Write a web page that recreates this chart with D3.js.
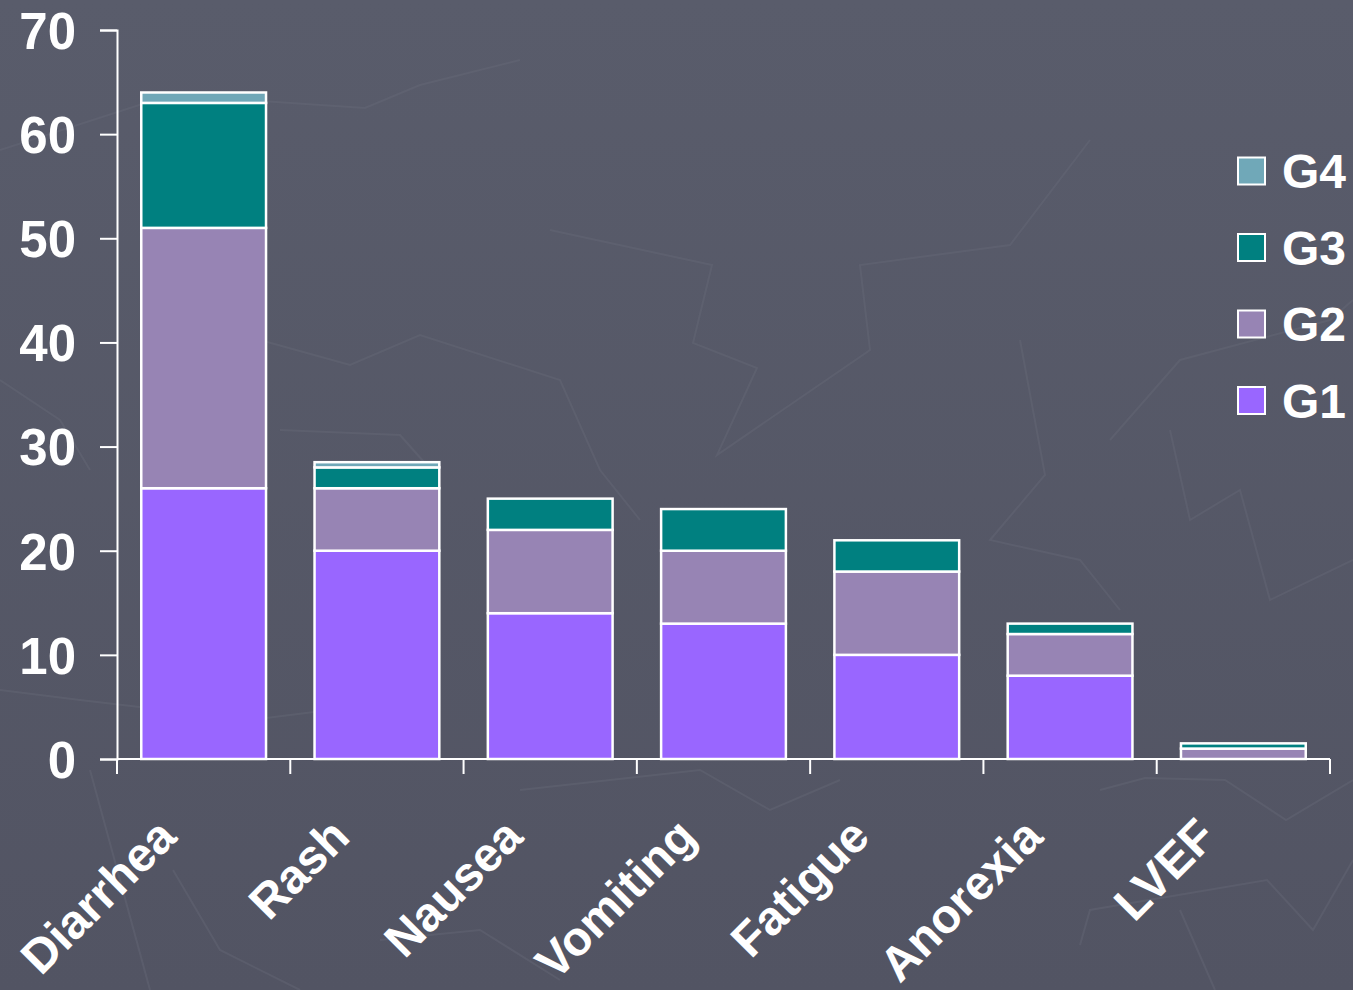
<!doctype html>
<html>
<head>
<script src="https://cdnjs.cloudflare.com/ajax/libs/d3/7.8.5/d3.min.js"></script>
<style>
    body { margin: 0; background: #565969; }
    svg { display: block; }
    text { font-family: "Liberation Sans", Arial, sans-serif; font-weight: bold; fill: #fff; }
</style>
</head>
<body>
<script>
    // chart data
    var categories = ["Diarrhea", "Rash", "Nausea", "Vomiting", "Fatigue", "Anorexia", "LVEF"];
    var grades = ["G1", "G2", "G3", "G4"];
    var g1 = [26, 20, 14, 13, 10, 8, 0];
    var g2 = [25, 6, 8, 7, 8, 4, 1];
    var g3 = [12, 2, 3, 4, 3, 1, 0.5];
    var g4 = [1, 0.5, 0, 0, 0, 0, 0];
    var yTicks = [0, 10, 20, 30, 40, 50, 60, 70];
    var colors = ["#9966ff", "#9784b4", "#008080", "#70a8b8"];

    var width = 1353, height = 990;
    var margin = {top: 30, right: 23, bottom: 231, left: 117};

    var svg = d3.select("body").append("svg")
        .attr("width", width)
        .attr("height", height);

    // background
    var bg = svg.append("defs").append("linearGradient")
        .attr("id", "bg").attr("x1", 0).attr("y1", 0).attr("x2", 0).attr("y2", 1);
    bg.append("stop").attr("offset", "0%").attr("stop-color", "#595c6b");
    bg.append("stop").attr("offset", "100%").attr("stop-color", "#525463");
    svg.append("rect").attr("width", width).attr("height", height).attr("fill", "url(#bg)");

    // faint decorative lines of the slide template
    var deco = [
        [[0, 150], [170, 95], [365, 108], [420, 85], [520, 60]],
        [[550, 230], [712, 265], [693, 343], [757, 368], [717, 455], [870, 350], [860, 265], [1010, 245], [1090, 140]],
        [[260, 340], [350, 365], [420, 335], [560, 380], [600, 470], [640, 520]],
        [[1020, 340], [1045, 475], [990, 540], [1080, 560], [1120, 610]],
        [[1110, 440], [1180, 360], [1330, 320], [1353, 300]],
        [[1170, 430], [1190, 520], [1240, 490], [1270, 600], [1353, 560]],
        [[0, 690], [80, 700], [250, 720], [330, 710]],
        [[90, 770], [150, 990]],
        [[173, 870], [220, 950], [300, 990]],
        [[520, 790], [700, 770], [770, 810], [840, 780]],
        [[380, 940], [480, 930], [560, 980]],
        [[1100, 790], [1145, 778], [1225, 780], [1286, 820], [1353, 780]],
        [[1080, 945], [1090, 910], [1267, 880], [1313, 930], [1353, 860]],
        [[1180, 910], [1215, 990]],
        [[0, 380], [60, 420], [90, 470]],
        [[280, 430], [400, 435], [440, 480]]
    ];
    svg.append("g").selectAll("path").data(deco).join("path")
        .attr("d", d3.line())
        .attr("fill", "none")
        .attr("stroke", "#6a6d7c")
        .attr("stroke-opacity", 0.35)
        .attr("stroke-width", 2);

    var x = d3.scaleBand()
        .domain(categories)
        .range([margin.left, width - margin.right])
        .paddingInner(0.28)
        .paddingOuter(0.14);

    var y = d3.scaleLinear()
        .domain([0, 70])
        .range([height - margin.bottom, margin.top]);

    // stacked bars
    var rows = categories.map(function(c, i) {
        return {cat: c, G1: g1[i], G2: g2[i], G3: g3[i], G4: g4[i]};
    });
    var series = d3.stack().keys(grades)(rows);

    svg.append("g").selectAll("g")
        .data(series)
        .join("g")
        .attr("fill", function(d, i) { return colors[i]; })
        .selectAll("rect")
        .data(function(d) { return d.filter(function(s) { return s[1] - s[0] > 0; }); })
        .join("rect")
        .attr("x", function(d) { return x(d.data.cat); })
        .attr("width", x.bandwidth())
        .attr("y", function(d) { return y(d[1]); })
        .attr("height", function(d) { return y(d[0]) - y(d[1]); })
        .attr("stroke", "#fff")
        .attr("stroke-width", 2.5);

    // y axis
    var yAxis = svg.append("g")
        .attr("transform", "translate(" + margin.left + ",0)")
        .call(d3.axisLeft(y).tickValues(yTicks).tickSize(17).tickPadding(24));
    yAxis.select(".domain").attr("stroke", "#fff").attr("stroke-width", 2);
    yAxis.selectAll(".tick line").attr("stroke", "#fff").attr("stroke-width", 2);
    yAxis.selectAll(".tick text")
        .attr("fill", "#fff")
        .style("font-size", "51px")
        .attr("dy", "0.36em");

    // x axis: ticks at band boundaries
    var y0 = y(0);
    var step = x.step();
    var bounds = d3.range(categories.length + 1).map(function(i) { return margin.left + i * step; });
    svg.append("line")
        .attr("x1", margin.left).attr("x2", width - margin.right)
        .attr("y1", y0).attr("y2", y0)
        .attr("stroke", "#fff").attr("stroke-width", 2);
    svg.append("g").selectAll("line").data(bounds).join("line")
        .attr("x1", function(d) { return d; }).attr("x2", function(d) { return d; })
        .attr("y1", y0).attr("y2", y0 + 15)
        .attr("stroke", "#fff").attr("stroke-width", 2);

    svg.append("g").selectAll("text").data(categories).join("text")
        .attr("transform", function(d) {
            return "translate(" + (x(d) + x.bandwidth() / 2 - 25) + "," + (y0 + 80) + ") rotate(-45)";
        })
        .attr("text-anchor", "end")
        .style("font-size", "48px")
        .text(function(d) { return d; });

    // legend
    var legendItems = grades.slice().reverse();
    var legend = svg.append("g").selectAll("g")
        .data(legendItems)
        .join("g")
        .attr("transform", function(d, i) { return "translate(1238," + (171 + i * 76.5) + ")"; });
    legend.append("rect")
        .attr("x", 0).attr("y", -13.5)
        .attr("width", 27).attr("height", 27)
        .attr("fill", function(d) { return colors[grades.indexOf(d)]; })
        .attr("stroke", "#fff").attr("stroke-width", 2);
    legend.append("text")
        .attr("x", 44).attr("y", 0).attr("dy", "0.36em")
        .style("font-size", "48px")
        .text(function(d) { return d; });
</script>
</body>
</html>
